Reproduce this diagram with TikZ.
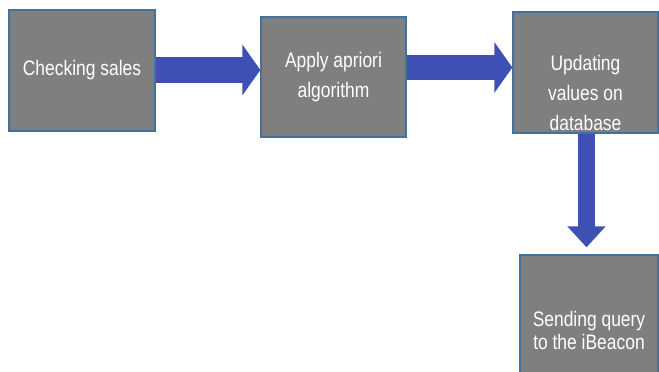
\documentclass[tikz,border=0pt]{standalone}
\usepackage{fontspec}
\setmainfont{Liberation Sans}[FakeStretch=0.83]
\usetikzlibrary{arrows.meta}
\definecolor{boxgray}{HTML}{7F7F7F}
\definecolor{boxborder}{HTML}{41719C}
\definecolor{arrowblue}{HTML}{3E50B4}
\begin{document}
\begin{tikzpicture}[x=1pt,y=1pt,
  procbox/.style={draw=boxborder, line width=1.3pt, fill=boxgray, text=white,
    align=center, inner sep=0pt, font=\fontsize{21}{30}\selectfont},
  bigarrow/.style={draw=arrowblue, line width=#1, -{Triangle[length=18pt,width=50pt]}},
]
\useasboundingbox (0,0) rectangle (659,372);
\fill[white] (0,0) rectangle (659,372);
\node[procbox, minimum width=146pt, minimum height=121pt] (b1) at (82,301.5) {Checking sales};
\node[procbox, minimum width=145pt, minimum height=120pt] (b2) at (333.5,295) {Apply apriori\\algorithm};
\node[procbox, minimum width=145pt, minimum height=121pt,
  label={[text=white, align=center, font=\fontsize{21}{30}\selectfont, yshift=-20pt]center:{Updating\\values on\\database}}] (b3) at (585.5,299.5) {};
\node[procbox, minimum width=138pt, minimum height=150pt,
  font=\fontsize{21}{23}\selectfont] (b4) at (589,42) {Sending query\\to the iBeacon};
\draw[bigarrow=26pt] (b1.east |- 0,302) -- (b2.west |- 0,302);
\draw[bigarrow=25pt] (b2.east |- 0,304.5) -- (b3.west |- 0,304.5);
\draw[draw=arrowblue, line width=17pt, -{Triangle[length=21pt,width=37pt]}, shorten >=7pt]
  (b3.south -| 586.5,0) -- (b4.north -| 586.5,0);
\end{tikzpicture}
\end{document}
